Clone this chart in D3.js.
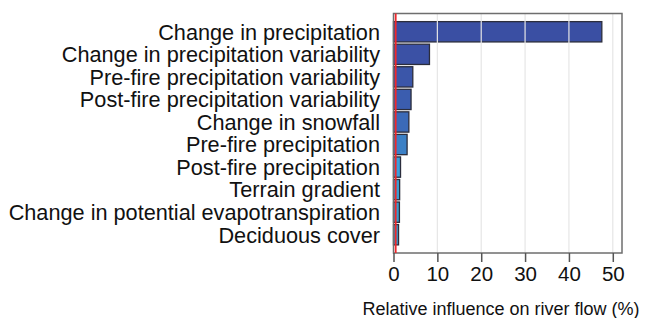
<!DOCTYPE html>
<html><head><meta charset="utf-8">
<script src="https://cdn.jsdelivr.net/npm/d3@7"></script>
<style>body{margin:0;background:#fff}svg{display:block}text{font-family:"Liberation Sans",Arial,sans-serif}</style>
</head><body><svg id="c" width="647" height="318"></svg>
<script>
const categories = ["Change in precipitation","Change in precipitation variability","Pre-fire precipitation variability","Post-fire precipitation variability","Change in snowfall","Pre-fire precipitation","Post-fire precipitation","Terrain gradient","Change in potential evapotranspiration","Deciduous cover"];
const influence = [47.5, 8.2, 4.4, 4.0, 3.5, 3.1, 1.6, 1.4, 1.35, 1.15];
const xTicks = [0, 10, 20, 30, 40, 50];
const refValue = 0.5;
const xTitle = "Relative influence on river flow (%)";

const barColors = ["#3a4fa3","#3b51a5","#3b56a9","#3b5daf","#3b6ab8","#3b80c6","#3b9fdc","#3a9fd2","#3a9ccc","#3a98c6"];

const svg = d3.select("#c");
const L = 393.5, R = 622, T = 13.5, B = 253;
const x = d3.scaleLinear().domain([0, 52.1]).range([L, R]);
const y = d3.scaleBand().domain(categories).range([T + 7, B - 7]).paddingInner(0.1).paddingOuter(0.05);

svg.append("g").selectAll("rect").data(categories).join("rect")
  .attr("x", x(0)).attr("y", d => y(d))
  .attr("width", (d,i) => x(influence[i]) - x(0))
  .attr("height", y.bandwidth())
  .attr("fill", (d,i) => barColors[i])
  .attr("stroke", "#2b2d3c").attr("stroke-width", 1.3);

svg.append("g").selectAll("line").data(xTicks.filter(t => t > 0)).join("line")
  .attr("x1", d => x(d)).attr("x2", d => x(d)).attr("y1", T).attr("y2", B)
  .attr("stroke", "#e6e6e6").attr("stroke-width", 1.2);

svg.append("rect").attr("x", L).attr("y", T).attr("width", R - L).attr("height", B - T)
  .attr("fill", "none").attr("stroke", "#6e6e6e").attr("stroke-width", 1.5);

svg.append("line").attr("x1", x(refValue)).attr("x2", x(refValue)).attr("y1", T).attr("y2", B)
  .attr("stroke", "#f0282c").attr("stroke-width", 1.8);

const ax = svg.append("g").attr("transform", `translate(0,${B})`)
  .call(d3.axisBottom(x).tickValues(xTicks).tickSize(9).tickPadding(4).tickFormat(d3.format("d")));
ax.select(".domain").remove();
ax.selectAll(".tick line").attr("stroke", "#555").attr("stroke-width", 1.5);
ax.selectAll(".tick text").attr("font-size", 20.5).attr("fill", "#111").attr("font-family", "Liberation Sans, Arial, sans-serif");

svg.append("g").selectAll("text").data(categories).join("text")
  .attr("x", 380).attr("y", d => y(d) + y.bandwidth()/2).attr("dy", "0.36em")
  .attr("text-anchor", "end").attr("font-size", 21.7).attr("fill", "#111").text(d => d);

svg.append("text").attr("x", 501).attr("y", 315).attr("text-anchor", "middle")
  .attr("font-size", 18).attr("fill", "#111").text(xTitle);
</script></body></html>
